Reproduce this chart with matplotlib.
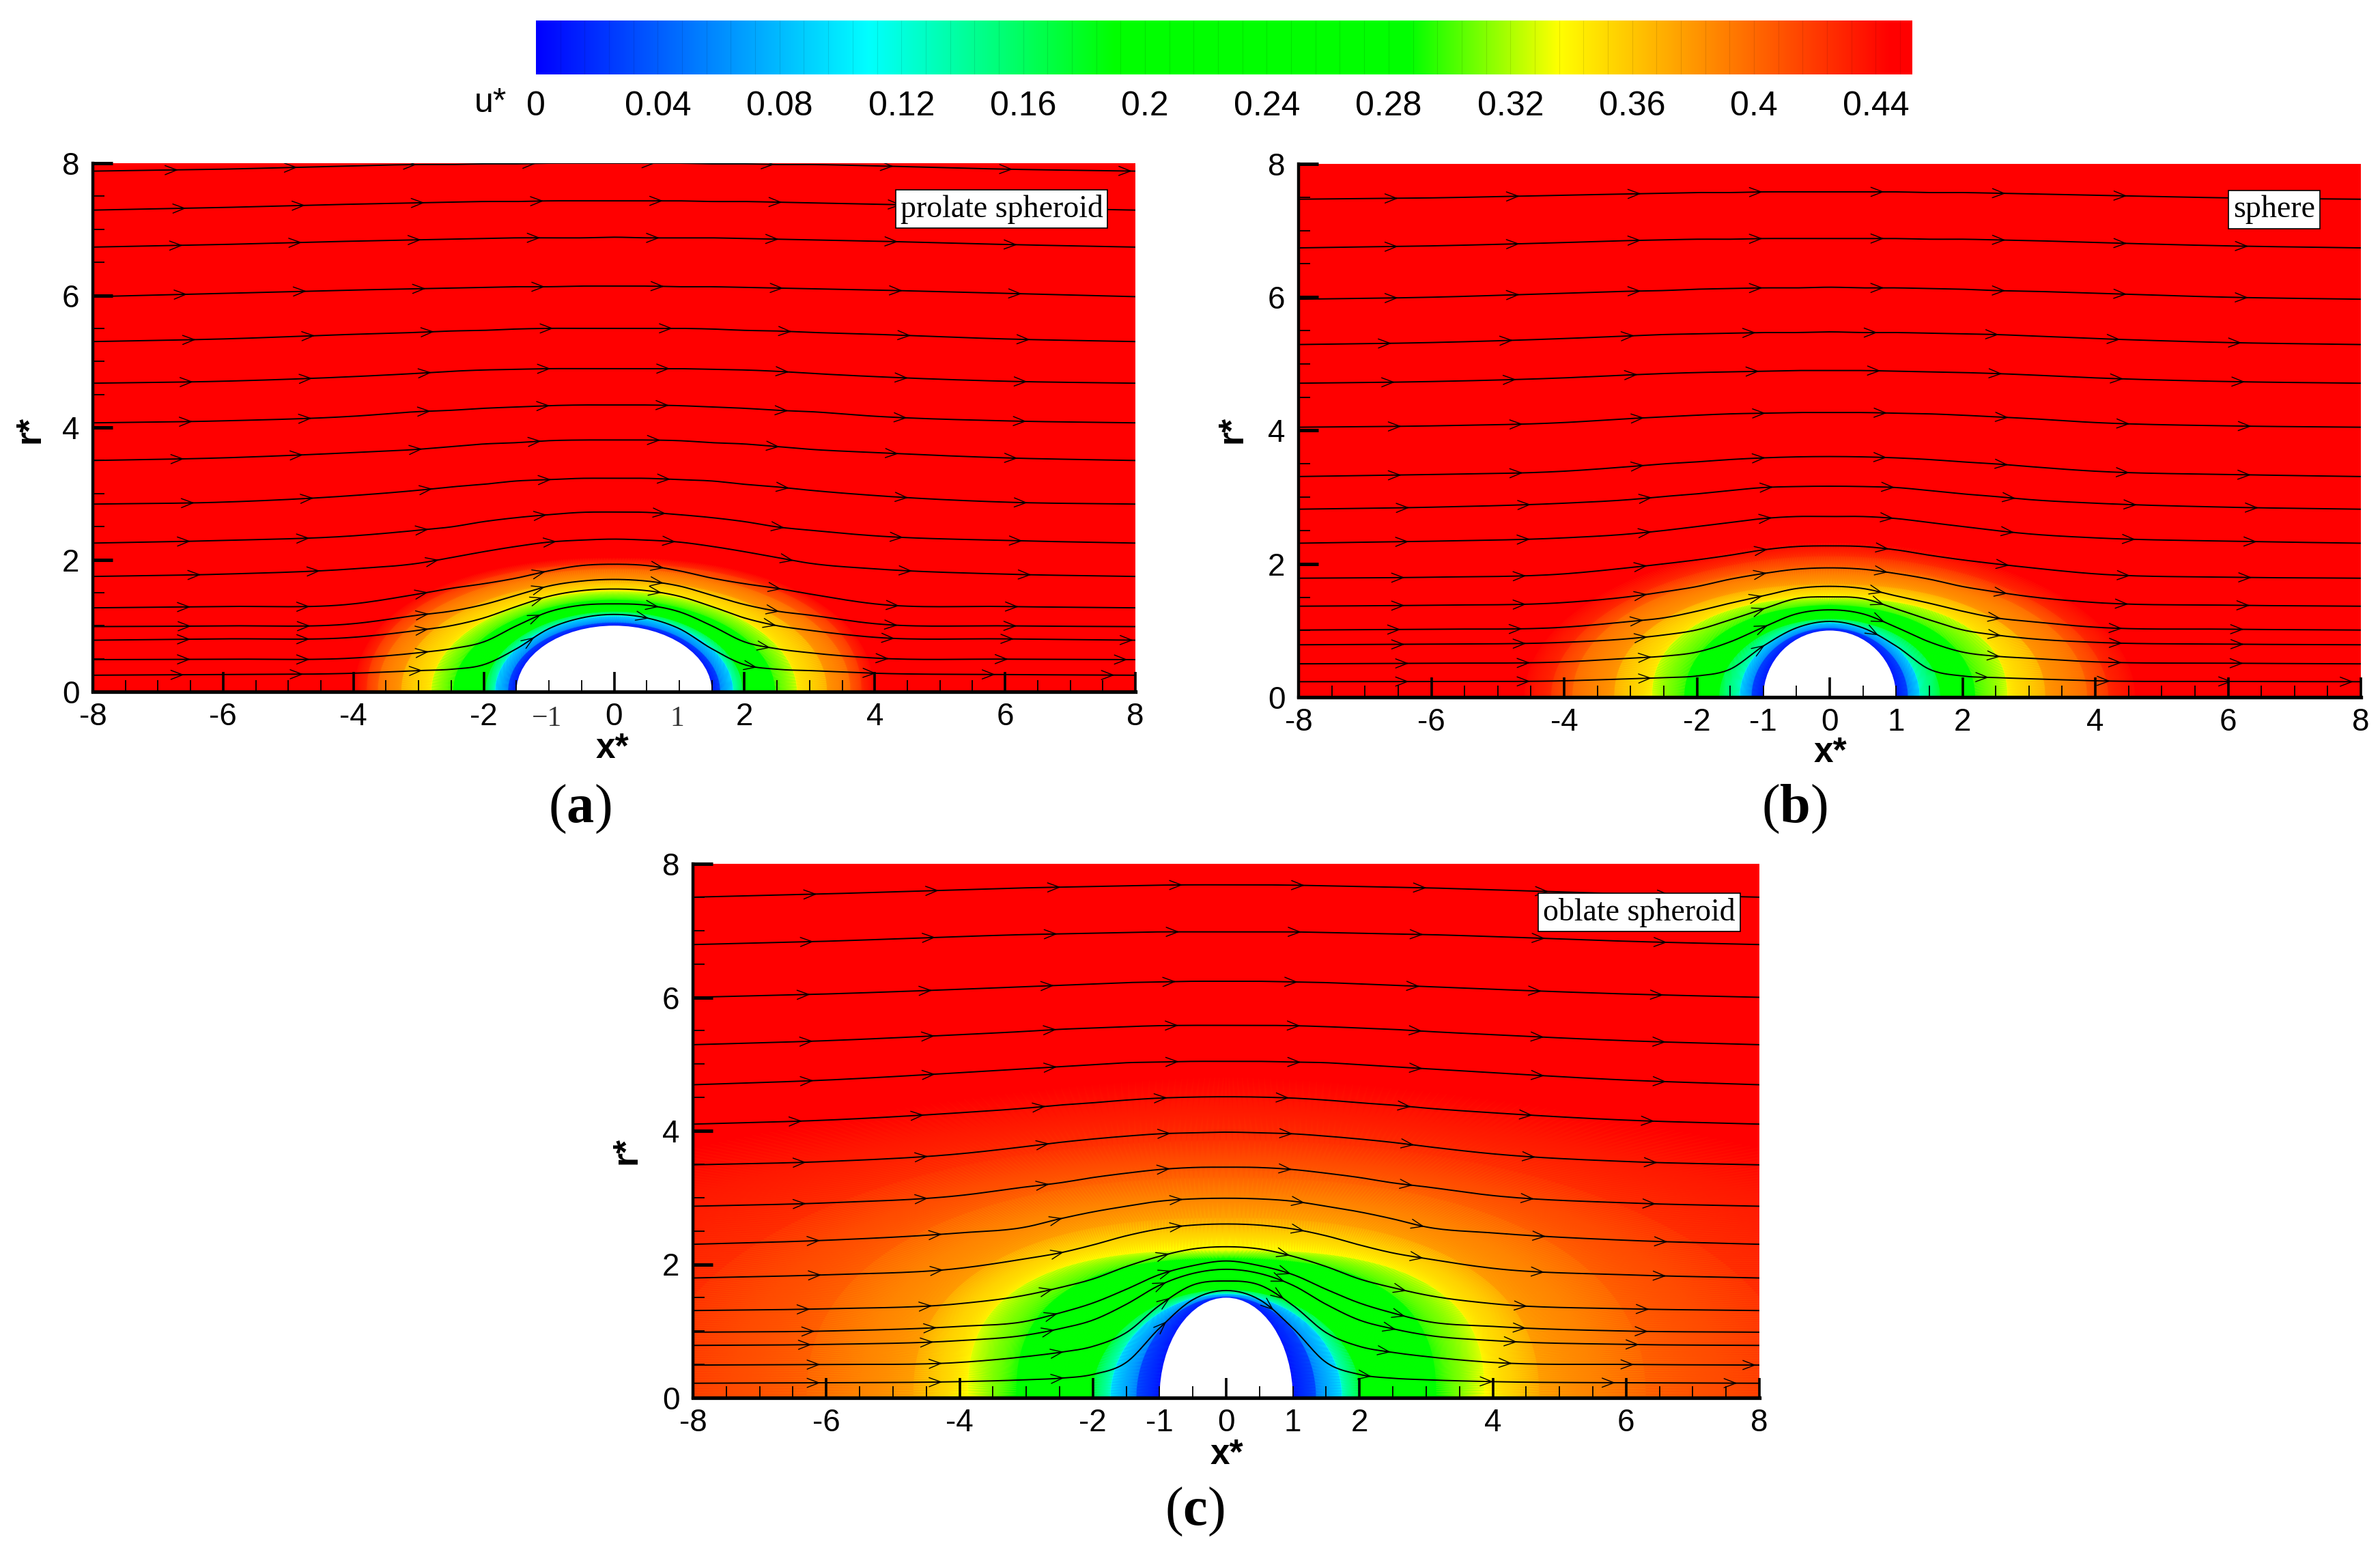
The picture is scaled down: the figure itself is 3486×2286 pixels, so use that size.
import numpy as np
import matplotlib
matplotlib.use('Agg')
import matplotlib.pyplot as plt
from matplotlib.colors import LinearSegmentedColormap, Normalize
from matplotlib.patches import Ellipse

plt.rcParams['font.family'] = 'Liberation Sans'
plt.rcParams['mathtext.fontset'] = 'custom'
plt.rcParams['mathtext.bf'] = 'Liberation Serif:bold'
plt.rcParams['mathtext.rm'] = 'Liberation Serif'

W, H = 3486, 2286

# DATA

# colour table
cmap_u = [0, 0.109, 0.19, 0.287, 0.336, 0.445, 0.452]
cmap_col = ['#0000ff', '#00ffff', '#00ff00', '#00ff00', '#ffff00', '#ff0000', '#ff0000']
bar_ticks = [0, 0.04, 0.08, 0.12, 0.16, 0.2, 0.24, 0.28, 0.32, 0.36, 0.4, 0.44]
bar_labels = ['0', '0.04', '0.08', '0.12', '0.16', '0.2', '0.24', '0.28', '0.32', '0.36', '0.4', '0.44']

x_ticks = [-8, -6, -4, -2, 0, 2, 4, 6, 8]
r_ticks = [0, 2, 4, 6, 8]

# iso-u contours: u value, reach along x, reach along r, squareness
iso_u = [0, 0.04, 0.109, 0.19, 0.287, 0.336, 0.375, 0.402, 0.424, 0.445]

iso_xa = [1.5, 1.63, 1.83, 1.98, 2.47, 2.81, 3.27, 3.63, 3.8, 3.98]
iso_ra = [1.0, 1.05, 1.15, 1.22, 1.39, 1.53, 1.69, 1.86, 1.94, 2.03]
iso_na = [2, 2, 2, 2, 2, 2, 2.1, 2.1, 2.2, 2.2]

iso_xb = [1.0, 1.18, 1.36, 1.67, 2.19, 2.68, 3.25, 3.88, 4.2, 4.6]
iso_rb = [1.0, 1.04, 1.12, 1.18, 1.38, 1.5, 1.7, 1.95, 2.12, 2.32]
iso_nb = [2, 2, 2, 2, 2.1, 2.3, 2.2, 2.1, 2, 2]

iso_xc = [1.0, 1.35, 1.74, 2.02, 3.15, 3.88, 4.7, 6.3, 8.6, 16]
iso_rc = [1.5, 1.52, 1.56, 1.625, 2.085, 2.22, 2.7, 3.3, 3.86, 4.8]
iso_nc = [2, 2, 2, 2, 2.6, 2.7, 2.4, 2.3, 2.1, 1.6]

# streamlines, left half, r* at these x*
sl_x = [-8, -6, -4, -3, -2.5, -2, -1.5, -1, -0.5, 0]

sl_a = [
    [.25, .26, .28, .32, .34, .41, .65, .955, 1.117, 1.17],
    [.486, .493, .51, .59, .65, .755, .997, 1.21, 1.31, 1.33],
    [.78, .80, .824, .93, 1.0, 1.117, 1.29, 1.445, 1.53, 1.555],
    [.986, .997, 1.03, 1.16, 1.22, 1.32, 1.46, 1.60, 1.675, 1.70],
    [1.27, 1.29, 1.33, 1.48, 1.565, 1.635, 1.72, 1.83, 1.91, 1.93],
    [1.745, 1.78, 1.86, 1.945, 2.03, 2.12, 2.2, 2.265, 2.295, 2.31],
    [2.25, 2.29, 2.36, 2.445, 2.495, 2.575, 2.635, 2.68, 2.715, 2.72],
    [2.84, 2.87, 2.97, 3.05, 3.10, 3.14, 3.19, 3.21, 3.23, 3.23],
    [3.5, 3.54, 3.62, 3.67, 3.71, 3.75, 3.77, 3.80, 3.81, 3.81],
    [4.07, 4.10, 4.17, 4.24, 4.26, 4.29, 4.31, 4.33, 4.34, 4.34],
    [4.67, 4.70, 4.77, 4.82, 4.85, 4.87, 4.88, 4.89, 4.89, 4.89],
    [5.30, 5.34, 5.41, 5.44, 5.46, 5.47, 5.49, 5.5, 5.5, 5.5],
    [5.98, 6.03, 6.08, 6.10, 6.11, 6.12, 6.13, 6.13, 6.14, 6.14],
    [6.73, 6.77, 6.82, 6.84, 6.85, 6.86, 6.87, 6.87, 6.87, 6.88],
    [7.29, 7.33, 7.38, 7.40, 7.41, 7.42, 7.42, 7.43, 7.43, 7.43],
    [7.88, 7.91, 7.96, 7.98, 7.98, 7.99, 7.99, 8, 8, 8],
]
arrow0_a = [1.4, 1.5, 1.5, 1.51, 1.5, 1.66, 1.5, 1.56, 1.4, 1.53, 1.54, 1.58, 1.45, 1.38, 1.43, 1.31]

sl_b = [
    [.232, .236, .246, .277, .294, .318, .42, .768, 1.04, 1.137],
    [.50, .51, .53, .585, .615, .677, .83, 1.05, 1.25, 1.31],
    [.786, .796, .823, .88, .933, 1.01, 1.16, 1.325, 1.48, 1.505],
    [1.007, 1.02, 1.05, 1.137, 1.19, 1.29, 1.41, 1.52, 1.63, 1.663],
    [1.365, 1.38, 1.42, 1.51, 1.58, 1.66, 1.77, 1.855, 1.92, 1.94],
    [1.785, 1.80, 1.85, 1.945, 2.0, 2.06, 2.13, 2.21, 2.26, 2.27],
    [2.31, 2.34, 2.39, 2.45, 2.50, 2.56, 2.62, 2.68, 2.71, 2.71],
    [2.82, 2.85, 2.91, 2.965, 3.01, 3.05, 3.10, 3.145, 3.16, 3.165],
    [3.31, 3.34, 3.39, 3.46, 3.50, 3.53, 3.565, 3.59, 3.605, 3.61],
    [4.05, 4.07, 4.12, 4.18, 4.205, 4.23, 4.25, 4.26, 4.27, 4.27],
    [4.71, 4.735, 4.79, 4.835, 4.855, 4.87, 4.88, 4.89, 4.90, 4.90],
    [5.29, 5.32, 5.38, 5.42, 5.44, 5.45, 5.46, 5.47, 5.47, 5.48],
    [5.97, 6.0, 6.06, 6.09, 6.10, 6.12, 6.13, 6.14, 6.14, 6.15],
    [6.74, 6.77, 6.82, 6.85, 6.86, 6.87, 6.87, 6.88, 6.88, 6.88],
    [7.47, 7.49, 7.53, 7.55, 7.56, 7.57, 7.57, 7.58, 7.58, 7.58],
]
arrow0_b = [1.66, 1.66, 1.6, 1.54, 1.6, 1.6, 1.66, 1.67, 1.55, 1.55, 1.45, 1.4, 1.5, 1.5, 1.5]

sl_c = [
    [.218, .225, .242, .27, .293, .35, .53, 1.044, 1.47, 1.607],
    [.49, .50, .53, .618, .68, .77, .976, 1.386, 1.69, 1.75],
    [.785, .80, .857, .94, 1.034, 1.164, 1.40, 1.686, 1.863, 1.925],
    [.983, 1.0, 1.07, 1.147, 1.27, 1.42, 1.625, 1.846, 1.98, 2.05],
    [1.307, 1.334, 1.41, 1.54, 1.65, 1.78, 1.966, 2.12, 2.23, 2.263],
    [1.795, 1.843, 1.94, 2.085, 2.17, 2.29, 2.427, 2.53, 2.587, 2.604],
    [2.30, 2.36, 2.47, 2.56, 2.68, 2.785, 2.87, 2.945, 2.98, 2.99],
    [2.87, 2.92, 3.03, 3.16, 3.22, 3.30, 3.365, 3.42, 3.45, 3.455],
    [3.49, 3.54, 3.655, 3.765, 3.826, 3.877, 3.92, 3.955, 3.97, 3.98],
    [4.10, 4.16, 4.27, 4.34, 4.385, 4.42, 4.46, 4.49, 4.505, 4.51],
    [4.69, 4.76, 4.87, 4.93, 4.96, 4.99, 5.02, 5.03, 5.04, 5.04],
    [5.29, 5.35, 5.44, 5.49, 5.52, 5.54, 5.56, 5.575, 5.58, 5.58],
    [6.0, 6.05, 6.12, 6.16, 6.18, 6.20, 6.22, 6.23, 6.24, 6.24],
    [6.79, 6.84, 6.91, 6.94, 6.95, 6.96, 6.97, 6.98, 6.98, 6.98],
    [7.50, 7.55, 7.61, 7.64, 7.65, 7.66, 7.67, 7.68, 7.685, 7.685],
]
arrow0_c = [1.91, 1.91, 1.78, 1.83, 1.76, 1.93, 1.91, 1.7, 1.7, 1.64, 1.81, 1.8, 1.76, 1.81, 1.86]

# FIGURE

cmap = LinearSegmentedColormap.from_list(
    'flow', [(u / cmap_u[-1], c) for u, c in zip(cmap_u, cmap_col)], N=2048)
norm = Normalize(0, cmap_u[-1])

fig = plt.figure(figsize=(W / 100, H / 100), dpi=100)
fig.patch.set_facecolor('white')


def px_axes(left, right, top, bottom):
    return fig.add_axes([left / W, 1 - bottom / H, (right - left) / W, (bottom - top) / H])


def fig_text(x, y, s, **kw):
    fig.text(x / W, 1 - y / H, s, ha='center', va='center', **kw)


def smooth_curve(xs, rs):
    # hermite pieces through the read points, so the line has no corners
    m = np.gradient(rs, xs)
    out_x, out_r = [], []
    for i in range(len(xs) - 1):
        h = xs[i + 1] - xs[i]
        t = np.linspace(0, 1, 16, endpoint=False)
        out_x.append(xs[i] + h * t)
        out_r.append((2 * t**3 - 3 * t**2 + 1) * rs[i] + (t**3 - 2 * t**2 + t) * h * m[i]
                     + (-2 * t**3 + 3 * t**2) * rs[i + 1] + (t**3 - t**2) * h * m[i + 1])
    return np.concatenate(out_x + [[xs[-1]]]), np.concatenate(out_r + [[rs[-1]]])


def draw_panel(ax, iso_x, iso_r, iso_n, lines, arrow0, one_labels):
    ax.set_facecolor(cmap(1.0))
    # nested contours give the mesh for the colour field
    t = np.linspace(0, np.pi, 361)
    X, Y, C = [], [], []
    for u, a, b, n in zip(iso_u, iso_x, iso_r, iso_n):
        X.append(a * np.sign(np.cos(t)) * np.abs(np.cos(t)) ** (2 / n))
        Y.append(b * np.abs(np.sin(t)) ** (2 / n))
        C.append(np.full_like(t, u))
    ax.pcolormesh(np.array(X), np.array(Y), np.array(C), shading='gouraud', cmap=cmap, norm=norm, zorder=1)
    ax.add_patch(Ellipse((0, 0), 2 * iso_x[0], 2 * iso_r[0], fc='white', ec='none', zorder=1.5))

    xl = np.array(sl_x, float)
    xn = np.concatenate([xl, -xl[-2::-1]])
    for line, s0 in zip(lines, arrow0):
        rl = np.array(line)
        xs, rs = smooth_curve(xn, np.concatenate([rl, rl[-2::-1]]))
        ax.plot(xs, rs, color='black', lw=1.4, zorder=2)
        # arrow heads sit at a constant distance along the line
        arc = np.concatenate([[0], np.cumsum(np.hypot(np.diff(xs), np.diff(rs)))])
        for s in np.arange(s0, arc[-1], 1.83):
            tip = (np.interp(s, arc, xs), np.interp(s, arc, rs))
            back = (np.interp(s - 0.1, arc, xs), np.interp(s - 0.1, arc, rs))
            ann = ax.annotate('', xy=tip, xytext=back, annotation_clip=False, zorder=2,
                              arrowprops=dict(arrowstyle='->,head_length=1.25,head_width=0.48', mutation_scale=10,
                                              lw=1.0, color='black', shrinkA=0, shrinkB=0))
            ann.arrow_patch.set_clip_path(ax.patch)

    ax.set_xlim(-8, 8)
    ax.set_ylim(0, 8)
    ax.set_axisbelow(False)
    ax.spines['top'].set_visible(False)
    ax.spines['right'].set_visible(False)
    ax.spines['left'].set_linewidth(3.2)
    ax.spines['bottom'].set_linewidth(3.8)
    ax.set_xticks(x_ticks)
    ax.set_xticklabels([str(v) for v in x_ticks])
    ax.set_yticks(r_ticks)
    ax.set_yticklabels([str(v) for v in r_ticks])
    x_minor = [v for v in np.arange(-7.5, 8, 0.5) if v not in x_ticks]
    ax.set_xticks(x_minor, minor=True)
    ax.set_xticklabels([one_labels.get(v, '') for v in x_minor], minor=True)
    ax.set_yticks(np.arange(0.5, 8, 0.5), minor=True)
    ax.tick_params(axis='x', which='major', direction='in', length=21, width=2.6, labelsize=33, pad=11)
    ax.tick_params(axis='x', which='minor', direction='in', length=12, width=1.3, labelsize=33, pad=11)
    ax.tick_params(axis='y', which='major', direction='in', length=21, width=3.6, labelsize=33, pad=14)
    ax.tick_params(axis='y', which='minor', direction='in', length=12, width=1.3)


ax_a = px_axes(136, 1663, 239, 1013)
ax_b = px_axes(1902, 3458, 240, 1021)
ax_c = px_axes(1015, 2577, 1265, 2047)

draw_panel(ax_a, iso_xa, iso_ra, iso_na, sl_a, arrow0_a, {})
draw_panel(ax_b, iso_xb, iso_rb, iso_nb, sl_b, arrow0_b, {-1.0: '-1', 1.0: '1'})
draw_panel(ax_c, iso_xc, iso_rc, iso_nc, sl_c, arrow0_c, {-1.0: '-1', 1.0: '1'})

# the -1 and 1 of the top left panel are set in another face
for xv, lab in [(-1.03, '\u22121'), (0.97, '1')]:
    ax_a.annotate(lab, xy=(xv, 0), xycoords='data', xytext=(0, -15), textcoords='offset points',
                  ha='center', va='top', family='Liberation Serif', fontsize=30, color='#333333')

# axis names
for (x, y) in [(897, 1096), (2681, 1103), (1797, 2130)]:
    fig_text(x, y, 'x*', fontsize=37, fontweight='bold')
for (x, y) in [(44, 629), (1805, 629), (918, 1685)]:
    fig_text(x, y, 'r*', fontsize=37, fontweight='bold', rotation=90)

# panel letters
for (x, y, s) in [(849, 1185, 'a'), (2628, 1185, 'b'), (1750, 2214, 'c')]:
    fig_text(x, y, '(' + r'$\mathbf{' + s + '}$' + ')', fontsize=58, family='Liberation Serif')

# shape names
for (x, y, s) in [(1467, 306, 'prolate spheroid'), (3331, 307, 'sphere'), (2401, 1336, 'oblate spheroid')]:
    fig_text(x, y, s, fontsize=33, family='Liberation Serif',
             bbox=dict(fc='white', ec='black', lw=1.2, boxstyle='square,pad=0.15'))

# colour bar
ax_bar = px_axes(785, 2801, 30, 109)
ax_bar.imshow(np.linspace(0, cmap_u[-1], 1024)[None, :], extent=[0, cmap_u[-1], 0, 1], aspect='auto',
              cmap=cmap, norm=norm, interpolation='bilinear')
ax_bar.vlines(np.arange(0.008, cmap_u[-1], 0.008), 0, 1, color='black', alpha=0.1, lw=0.8)
for sp in ax_bar.spines.values():
    sp.set_visible(False)
ax_bar.set_yticks([])
ax_bar.set_xticks(bar_ticks)
ax_bar.set_xticklabels(bar_labels)
ax_bar.tick_params(axis='x', length=0, labelsize=36, pad=17)
fig_text(718, 151, 'u*', fontsize=36)

fig.savefig('out.png', dpi=100)
